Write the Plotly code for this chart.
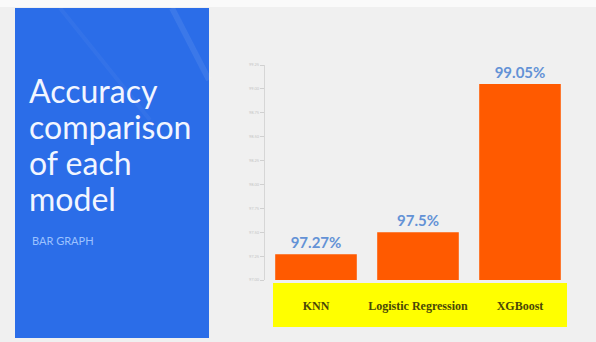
import plotly.graph_objects as go

# Model accuracy values (%)
models = ["KNN", "Logistic Regression", "XGBoost"]
accuracy = [97.27, 97.5, 99.05]

# Y axis ticks
y_ticks = [97.0, 97.25, 97.5, 97.75, 98.0, 98.25, 98.5, 98.75, 99.0, 99.25]

# Side panel text
title_lines = ["Accuracy", "comparison", "of each", "model"]
subtitle = "BAR GRAPH"

W, H = 596, 342
L, R, T, B = 265, 25, 65, 62
PW, PH = W - L - R, H - T - B


def px(x):
    return (x - L) / PW


def py(y):
    return (H - B - y) / PH


fig = go.Figure(
    go.Bar(
        x=models,
        y=accuracy,
        marker=dict(color="#ff5a00", line=dict(width=0)),
        text=[f"{v}%" for v in accuracy],
        textposition="outside",
        textfont=dict(family="Lato", size=15, color="#6392d6", weight="bold"),
        cliponaxis=False,
        hoverinfo="skip",
    )
)

annotations = []
for i, line in enumerate(title_lines):
    annotations.append(dict(
        xref="paper", yref="paper",
        x=px(27), y=py(90 + i * 36),
        xanchor="left", yanchor="middle",
        text=line, showarrow=False,
        font=dict(family="Lato", size=32, color="#f2f6ff"),
    ))
annotations.append(dict(
    xref="paper", yref="paper",
    x=px(30), y=py(240),
    xanchor="left", yanchor="middle",
    text=subtitle, showarrow=False,
    font=dict(family="Lato", size=11, color="#9cc2ff"),
))

fig.update_layout(
    width=W,
    height=H,
    margin=dict(l=L, r=R, t=T, b=B),
    paper_bgcolor="#f0f0f0",
    plot_bgcolor="#f0f0f0",
    bargap=0.2,
    showlegend=False,
    xaxis=dict(
        showgrid=False,
        zeroline=False,
        showline=False,
        ticks="",
        ticklabelstandoff=17,
        tickprefix="<b>",
        ticksuffix="</b>",
        tickfont=dict(family="Liberation Serif", size=12, color="#4a4808"),
    ),
    yaxis=dict(
        range=[97.0, 99.25],
        tickvals=y_ticks,
        ticktext=[f"{t:.2f}" for t in y_ticks],
        showgrid=False,
        zeroline=False,
        showline=True,
        linecolor="#d6d6d6",
        linewidth=1,
        ticks="outside",
        ticklen=4,
        tickcolor="#d0d0d0",
        tickfont=dict(family="Lato", size=4, color="#c4c4c4"),
    ),
    shapes=[
        # light frame strip along the top
        dict(type="rect", xref="paper", yref="paper", x0=px(0), x1=px(W),
             y0=py(7), y1=py(0), fillcolor="#fafafa", line=dict(width=0), layer="below"),
        # blue side panel
        dict(type="rect", xref="paper", yref="paper",
             x0=px(15), x1=px(209), y0=py(338), y1=py(8),
             fillcolor="#2b6de8", line=dict(width=0), layer="below"),
        # faint light streaks on the panel
        dict(type="line", xref="paper", yref="paper",
             x0=px(172), x1=px(209), y0=py(8), y1=py(80),
             line=dict(color="rgba(255,255,255,0.08)", width=6), layer="below"),
        dict(type="line", xref="paper", yref="paper",
             x0=px(60), x1=px(150), y0=py(8), y1=py(120),
             line=dict(color="rgba(255,255,255,0.04)", width=4), layer="below"),
        # yellow category band
        dict(type="rect", xref="paper", yref="paper",
             x0=px(273), x1=px(567), y0=py(327), y1=py(283),
             fillcolor="#ffff00", line=dict(width=0), layer="below"),
    ],
    annotations=annotations,
)

fig.write_html("out.html")
